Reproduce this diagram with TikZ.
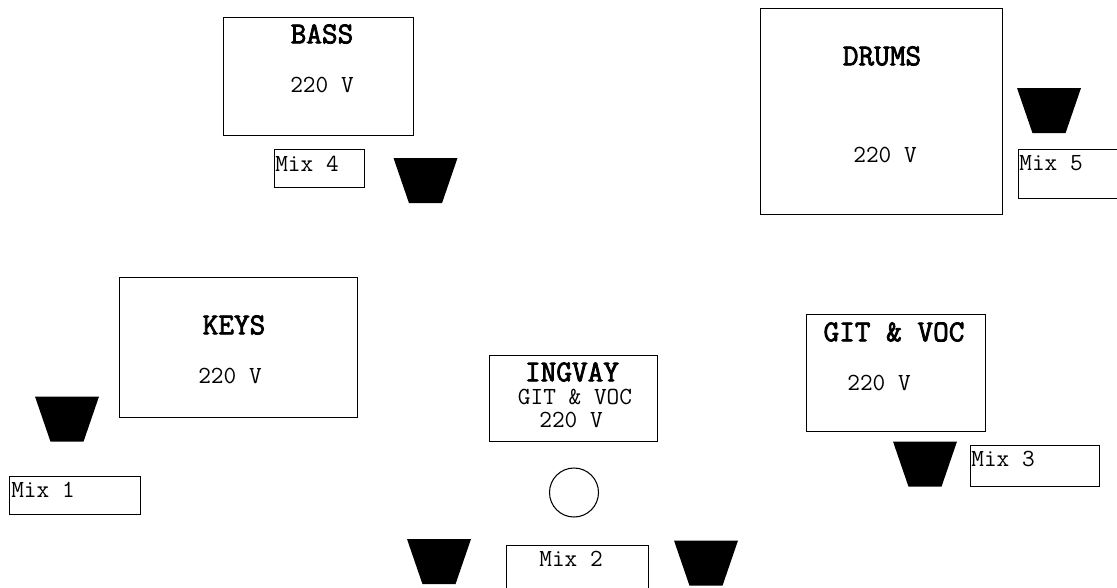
\documentclass[tikz,border=0pt]{standalone}
\usepackage{fontspec}
\newfontfamily\titlefont[FakeBold=2.5]{Latin Modern Mono}
\usetikzlibrary{positioning,shapes.geometric}

\begin{document}
\begin{tikzpicture}[
    stagebox/.style={draw, line width=0.6pt, anchor=north west, inner sep=0pt},
    speaker/.style={trapezium, shape border rotate=180, trapezium angle=65, trapezium stretches=true,
      fill=black, inner sep=1pt, minimum width=1.28cm, minimum height=0.9cm},
    title/.style={font=\fontsize{17.3}{19}\selectfont\titlefont, inner sep=0pt},
    label/.style={font=\fontsize{14}{16}\selectfont\ttfamily, inner sep=0pt},
  ]
  \useasboundingbox (0,0) rectangle (22.34,-11.74);

  % Bass
  \node[stagebox, minimum width=3.8cm, minimum height=2.36cm] (bass) at (4.46,-0.34) {};
  \node[title] (bassname) at (6.44,-0.68) {BASS};
  \node[label] (bassvolt) at (6.44,-1.7) {220 V};
  \node[stagebox, minimum width=1.79cm, minimum height=0.76cm] (mixfour) at (5.48,-2.98) {};
  \node[label] (mixfourtext) at (6.14,-3.28) {Mix 4};
  \node[speaker] (spkfour) at (8.51,-3.61) {};

  % Drums
  \node[stagebox, minimum width=4.84cm, minimum height=4.11cm] (drums) at (15.19,-0.16) {};
  \node[title] (drumsname) at (17.64,-1.12) {DRUMS};
  \node[label] (drumsvolt) at (17.7,-3.1) {220 V};
  \node[speaker] (spkfive) at (20.98,-2.21) {};
  \node[stagebox, minimum width=2cm, minimum height=0.98cm] (mixfive) at (20.36,-2.97) {};
  \node[label] (mixfivetext) at (21.02,-3.26) {Mix 5};

  % Keys
  \node[stagebox, minimum width=4.75cm, minimum height=2.8cm] (keys) at (2.38,-5.54) {};
  \node[title] (keysname) at (4.68,-6.5) {KEYS};
  \node[label] (keysvolt) at (4.6,-7.52) {220 V};
  \node[speaker] (spkone) at (1.34,-8.38) {};
  \node[stagebox, minimum width=2.62cm, minimum height=0.75cm] (mixone) at (0.18,-9.52) {};
  \node[label] (mixonetext) at (0.86,-9.8) {Mix 1};

  % Ingvay
  \node[stagebox, minimum width=3.36cm, minimum height=1.72cm] (ingvay) at (9.78,-7.1) {};
  \node[title] (ingvayname) at (11.44,-7.44) {INGVAY};
  \node[label] (ingvayrole) at (11.5,-7.94) {GIT \& VOC};
  \node[label] (ingvayvolt) at (11.42,-8.39) {220 V};
  \node[draw, circle, line width=0.6pt, inner sep=0pt, minimum size=0.98cm] (mic) at (11.48,-9.85) {};
  \node[speaker] (spktwoleft) at (8.78,-11.23) {};
  \node[stagebox, minimum width=2.85cm, minimum height=0.85cm] (mixtwo) at (10.11,-10.9) {};
  \node[label] (mixtwotext) at (11.42,-11.18) {Mix 2};
  \node[speaker] (spktworight) at (14.12,-11.26) {};

  % Git and vocals
  \node[stagebox, minimum width=3.59cm, minimum height=2.34cm] (gitvoc) at (16.11,-6.27) {};
  \node[title] (gitvocname) at (17.88,-6.64) {GIT \& VOC};
  \node[label] (gitvocvolt) at (17.58,-7.66) {220 V};
  \node[speaker] (spkthree) at (18.5,-9.28) {};
  \node[stagebox, minimum width=2.58cm, minimum height=0.81cm] (mixthree) at (19.39,-8.9) {};
  \node[label] (mixthreetext) at (20.06,-9.18) {Mix 3};
\end{tikzpicture}
\end{document}
